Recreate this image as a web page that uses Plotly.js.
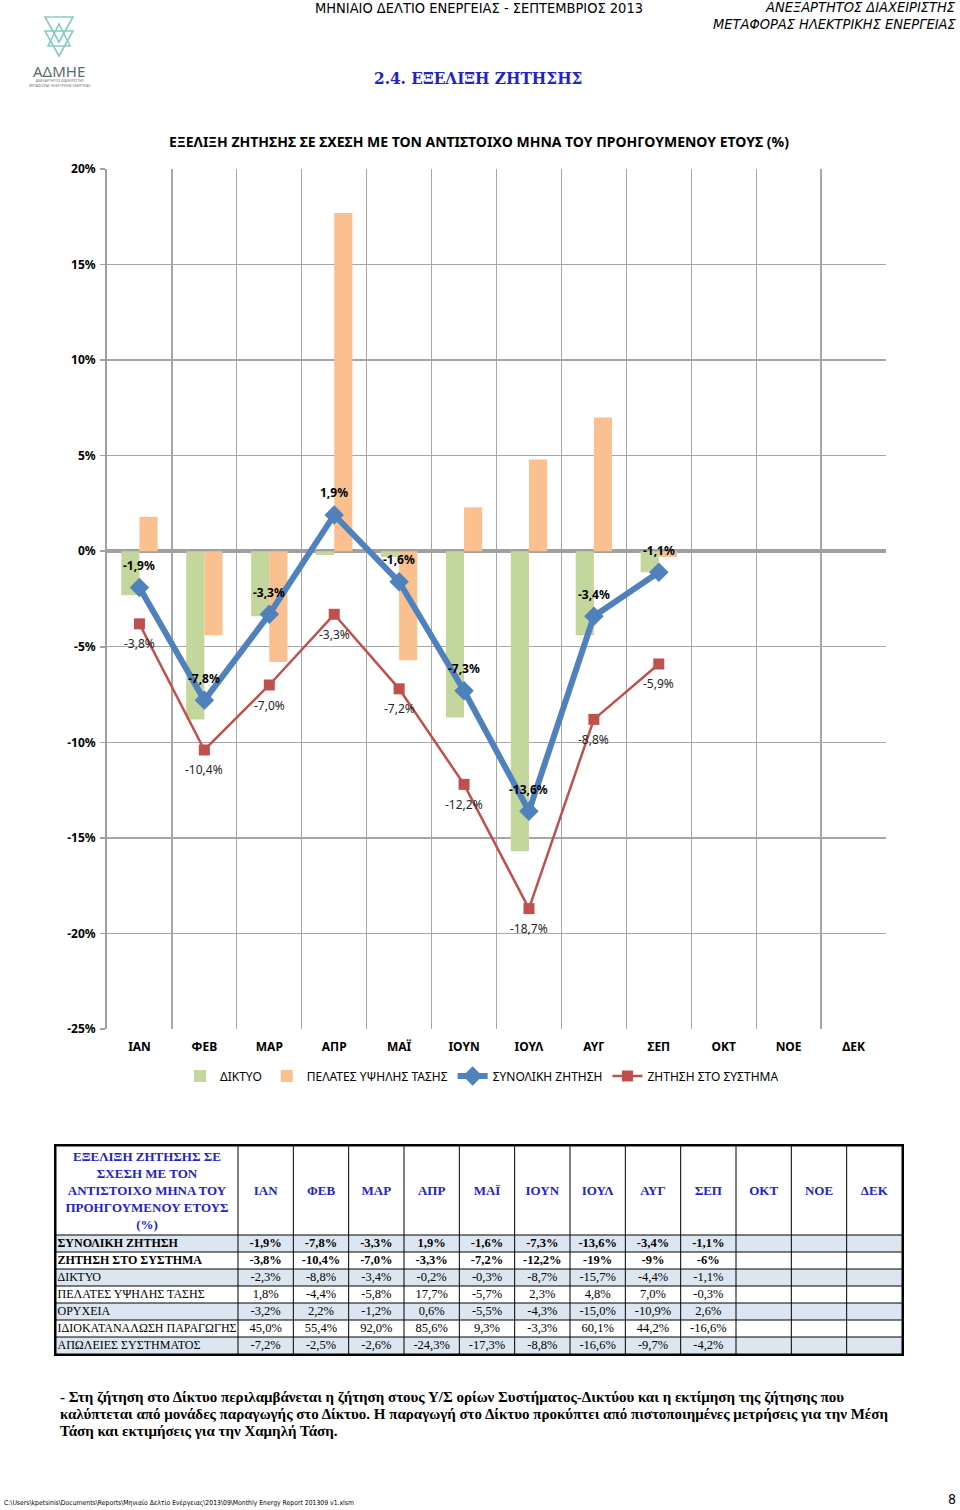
<!DOCTYPE html>
<html><head><meta charset="utf-8">
<script src="https://cdn.plot.ly/plotly-3.0.1.min.js"></script>
<style>html,body{margin:0;padding:0;background:#fff}#chart{width:960px;height:1510px}</style>
</head><body><div id="chart"></div>
<script>
const months = ['ΙΑΝ','ΦΕΒ','ΜΑΡ','ΑΠΡ','ΜΑΪ','ΙΟΥΝ','ΙΟΥΛ','ΑΥΓ','ΣΕΠ','ΟΚΤ','ΝΟΕ','ΔΕΚ'];
const dataMonths = months.slice(0, 9);
const totalDemand = [-1.9, -7.8, -3.3, 1.9, -1.6, -7.3, -13.6, -3.4, -1.1];
const systemDemand = [-3.8, -10.4, -7.0, -3.3, -7.2, -12.2, -18.7, -8.8, -5.9];
const network = [-2.3, -8.8, -3.4, -0.2, -0.3, -8.7, -15.7, -4.4, -1.1];
const hvCustomers = [1.8, -4.4, -5.8, 17.7, -5.7, 2.3, 4.8, 7.0, -0.3];
const yTickVals = [-25, -20, -15, -10, -5, 0, 5, 10, 15, 20];

const seriesNames = ['ΔΙΚΤΥΟ', 'ΠΕΛΑΤΕΣ ΥΨΗΛΗΣ ΤΑΣΗΣ', 'ΣΥΝΟΛΙΚΗ ΖΗΤΗΣΗ', 'ΖΗΤΗΣΗ ΣΤΟ ΣΥΣΤΗΜΑ'];

const tableTitle = 'ΕΞΕΛΙΞΗ ΖΗΤΗΣΗΣ ΣΕ<br>ΣΧΕΣΗ ΜΕ ΤΟΝ<br>ΑΝΤΙΣΤΟΙΧΟ ΜΗΝΑ ΤΟΥ<br>ΠΡΟΗΓΟΥΜΕΝΟΥ ΕΤΟΥΣ<br>(%)';
const rowLabels = ['ΣΥΝΟΛΙΚΗ ΖΗΤΗΣΗ', 'ΖΗΤΗΣΗ ΣΤΟ ΣΥΣΤΗΜΑ', 'ΔΙΚΤΥΟ', 'ΠΕΛΑΤΕΣ ΥΨΗΛΗΣ ΤΑΣΗΣ', 'ΟΡΥΧΕΙΑ', 'ΙΔΙΟΚΑΤΑΝΑΛΩΣΗ ΠΑΡΑΓΩΓΗΣ', 'ΑΠΩΛΕΙΕΣ ΣΥΣΤΗΜΑΤΟΣ'];
const rowTotal = ['-1,9%', '-7,8%', '-3,3%', '1,9%', '-1,6%', '-7,3%', '-13,6%', '-3,4%', '-1,1%'];
const rowSystem = ['-3,8%', '-10,4%', '-7,0%', '-3,3%', '-7,2%', '-12,2%', '-19%', '-9%', '-6%'];
const rowNetwork = ['-2,3%', '-8,8%', '-3,4%', '-0,2%', '-0,3%', '-8,7%', '-15,7%', '-4,4%', '-1,1%'];
const rowHv = ['1,8%', '-4,4%', '-5,8%', '17,7%', '-5,7%', '2,3%', '4,8%', '7,0%', '-0,3%'];
const rowMines = ['-3,2%', '2,2%', '-1,2%', '0,6%', '-5,5%', '-4,3%', '-15,0%', '-10,9%', '2,6%'];
const rowSelf = ['45,0%', '55,4%', '92,0%', '85,6%', '9,3%', '-3,3%', '60,1%', '44,2%', '-16,6%'];
const rowLosses = ['-7,2%', '-2,5%', '-2,6%', '-24,3%', '-17,3%', '-8,8%', '-16,6%', '-9,7%', '-4,2%'];
const boldRows = [true, true, false, false, false, false, false];

const headerLeft = 'ΜΗΝΙΑΙΟ ΔΕΛΤΙΟ ΕΝΕΡΓΕΙΑΣ - ΣΕΠΤΕΜΒΡΙΟΣ 2013';
const headerRight1 = 'ΑΝΕΞΑΡΤΗΤΟΣ ΔΙΑΧΕΙΡΙΣΤΗΣ';
const headerRight2 = 'ΜΕΤΑΦΟΡΑΣ ΗΛΕΚΤΡΙΚΗΣ ΕΝΕΡΓΕΙΑΣ';
const sectionTitle = '2.4. ΕΞΕΛΙΞΗ ΖΗΤΗΣΗΣ';
const chartTitle = 'ΕΞΕΛΙΞΗ ΖΗΤΗΣΗΣ ΣΕ ΣΧΕΣΗ ΜΕ ΤΟΝ ΑΝΤΙΣΤΟΙΧΟ ΜΗΝΑ ΤΟΥ ΠΡΟΗΓΟΥΜΕΝΟΥ ΕΤΟΥΣ (%)';
const noteLines = [
  '- Στη ζήτηση στο Δίκτυο περιλαμβάνεται η ζήτηση στους Υ/Σ ορίων Συστήματος-Δικτύου και η εκτίμηση της ζήτησης που',
  'καλύπτεται από μονάδες παραγωγής στο Δίκτυο. Η παραγωγή στο Δίκτυο προκύπτει από πιστοποιημένες μετρήσεις για την Μέση',
  'Τάση και εκτιμήσεις για την Χαμηλή Τάση.'
];
const filePath = 'C:\\Users\\kpetsinis\\Documents\\Reports\\Μηνιαίο Δελτίο Ενέργειας\\2013\\09\\Monthly Energy Report 201309 v1.xlsm';
const pageNo = '8';

// ---------- layout constants (sizes / styles) ----------
const W = 960, H = 1510;
const px = x => x / W;
const py = y => 1 - y / H;
const fmt = v => v.toFixed(1).replace('.', ',') + '%';

const SANS = 'Noto Sans, DejaVu Sans, sans-serif';
const NARROW = 'Liberation Sans Narrow, DejaVu Sans Condensed, Arial Narrow, sans-serif';
const SERIF = 'Liberation Serif, DejaVu Serif, serif';

// table grid sizes (in table units = pixels)
const firstColWidth = 182, monthColWidth = 664 / 12, headerHeight = 89, rowHeight = 17;

const traces = [
  {type: 'bar', name: seriesNames[0], x: dataMonths, y: network, marker: {color: '#C3D69B'}, hoverinfo: 'skip'},
  {type: 'bar', name: seriesNames[1], x: dataMonths, y: hvCustomers, marker: {color: '#FAC090'}, hoverinfo: 'skip'},
  {type: 'scatter', mode: 'lines+markers', name: seriesNames[2], x: dataMonths, y: totalDemand,
   line: {color: '#4F81BD', width: 6}, marker: {symbol: 'diamond', size: 15, color: '#4F81BD'}},
  {type: 'scatter', mode: 'lines+markers', name: seriesNames[3], x: dataMonths, y: systemDemand,
   line: {color: '#C0504D', width: 2.5}, marker: {symbol: 'square', size: 11, color: '#C0504D'}}
];

// ---------- table as a grid subplot ----------
const colEdges = [0, firstColWidth];
months.forEach((m, j) => colEdges.push(firstColWidth + monthColWidth * (j + 1)));
const rowEdges = [0, headerHeight];
rowLabels.forEach((r, i) => rowEdges.push(headerHeight + rowHeight * (i + 1)));
const colCenters = colEdges.slice(0, -1).map((e, k) => (e + colEdges[k + 1]) / 2);
const rowCenters = rowEdges.slice(1, -1).map((e, k) => (e + rowEdges[k + 2]) / 2);
const tableW = colEdges[colEdges.length - 1], tableH = rowEdges[rowEdges.length - 1];

const rowsData = [rowTotal, rowSystem, rowNetwork, rowHv, rowMines, rowSelf, rowLosses];
const wrap = (s, i) => boldRows[i] ? '<b>' + s + '</b>' : s;

// fills
traces.push({
  type: 'heatmap', xaxis: 'x4', yaxis: 'y4',
  x: colEdges, y: rowEdges.slice(1),
  z: rowLabels.map((r, i) => colCenters.map(() => (i % 2 === 0 ? 1 : 0))),
  colorscale: [[0, '#FFFFFF'], [1, '#DCE6F1']], zmin: 0, zmax: 1, showscale: false,
  hoverinfo: 'skip'
});
// header texts
traces.push({
  type: 'scatter', mode: 'text', xaxis: 'x4', yaxis: 'y4', showlegend: false, hoverinfo: 'skip', cliponaxis: false,
  x: colCenters, y: colCenters.map(() => headerHeight / 2 + 1),
  text: ['<b>' + tableTitle + '</b>'].concat(months.map(m => '<b>' + m + '</b>')),
  textposition: 'middle center',
  textfont: {family: SERIF, size: 13, color: '#2424C4'}
});
// row labels
traces.push({
  type: 'scatter', mode: 'text', xaxis: 'x4', yaxis: 'y4', showlegend: false, hoverinfo: 'skip', cliponaxis: false,
  x: rowLabels.map(() => 1.5), y: rowCenters,
  text: rowLabels.map(wrap), textposition: 'middle right',
  textfont: {family: SERIF, size: 12, color: '#000'}
});
// values
const vx = [], vy = [], vt = [];
rowsData.forEach((r, i) => r.forEach((s, j) => { vx.push(colCenters[j + 1]); vy.push(rowCenters[i]); vt.push(wrap(s, i)); }));
traces.push({
  type: 'scatter', mode: 'text', xaxis: 'x4', yaxis: 'y4', showlegend: false, hoverinfo: 'skip', cliponaxis: false,
  x: vx, y: vy, text: vt, textposition: 'middle center',
  textfont: {family: SERIF, size: 12.5, color: '#000'}
});

// boundaries for zero-axis tick marks
const boundaries = months.map((m, i) => i - 0.5).concat([months.length - 0.5]);

const annotations = [
  {text: headerLeft, x: px(479), y: py(8), xanchor: 'center', yanchor: 'middle', font: {family: NARROW, size: 14.5, color: '#000'}},
  {text: '<i>' + headerRight1 + '</i>', x: px(958), y: py(7), xanchor: 'right', yanchor: 'middle', font: {family: NARROW, size: 14.5, color: '#000'}},
  {text: '<i>' + headerRight2 + '</i>', x: px(958), y: py(24), xanchor: 'right', yanchor: 'middle', font: {family: NARROW, size: 14.5, color: '#000'}},
  {text: '<b>' + sectionTitle + '</b>', x: px(478), y: py(78), xanchor: 'center', yanchor: 'middle', font: {family: 'DejaVu Serif Condensed, DejaVu Serif, serif', size: 17, color: '#2323C6'}},
  {text: 'ΑΔΜΗΕ', x: px(59), y: py(71), xanchor: 'center', yanchor: 'middle', font: {family: SANS, size: 15, color: '#5A6B70'}},
  {text: 'ΑΝΕΞΑΡΤΗΤΟΣ ΔΙΑΧΕΙΡΙΣΤΗΣ<br>ΜΕΤΑΦΟΡΑΣ ΗΛΕΚΤΡΙΚΗΣ ΕΝΕΡΓΕΙΑΣ', x: px(59), y: py(83), xanchor: 'center', yanchor: 'middle', font: {family: SANS, size: 3.5, color: '#777'}},
  {text: filePath, x: px(2), y: py(1503), xanchor: 'left', yanchor: 'middle', font: {family: NARROW, size: 6.8, color: '#000'}},
  {text: pageNo, x: px(958), y: py(1499), xanchor: 'right', yanchor: 'middle', font: {family: NARROW, size: 14, color: '#000'}}
];
noteLines.forEach((t, i) => annotations.push({
  text: '<b>' + t + '</b>', x: px(58), y: py(1397 + i * 17), xanchor: 'left', yanchor: 'middle', align: 'left',
  font: {family: SERIF, size: 15, color: '#000'}
}));
annotations.forEach(a => { a.xref = 'paper'; a.yref = 'paper'; a.showarrow = false; });

// data labels placed through the chart axes
dataMonths.forEach((m, i) => {
  annotations.push({xref: 'x', yref: 'y', x: m, y: totalDemand[i], yshift: 22, showarrow: false,
    text: '<b>' + fmt(totalDemand[i]) + '</b>', font: {family: SANS, size: 12, color: '#000'}});
  annotations.push({xref: 'x', yref: 'y', x: m, y: systemDemand[i], yshift: -20, showarrow: false,
    text: fmt(systemDemand[i]), font: {family: SANS, size: 12, color: '#262626'}});
});

// logo triangles
const tri = pts => 'M ' + pts.map(p => px(p[0]) + ' ' + py(p[1])).join(' L ') + ' Z';
const logoStyle = {type: 'path', xref: 'paper', yref: 'paper', line: {color: '#86CBC1', width: 1.6}};
const shapes = [
  Object.assign({path: tri([[45, 17], [73, 17], [59, 42]])}, logoStyle),
  Object.assign({path: tri([[45, 31], [73, 31], [59, 56]])}, logoStyle),
  Object.assign({path: tri([[48, 46], [70, 46], [59, 24]])}, logoStyle)
];
// table borders, drawn in the table subplot's own units
colEdges.forEach(e => shapes.push({type: 'line', xref: 'x4', yref: 'y4', x0: e, x1: e, y0: 0, y1: tableH,
  line: {color: '#000', width: 1}, layer: 'above'}));
rowEdges.forEach(e => shapes.push({type: 'line', xref: 'x4', yref: 'y4', x0: 0, x1: tableW, y0: e, y1: e,
  line: {color: '#000', width: 1}, layer: 'above'}));

const layout = {
  width: W, height: H,
  margin: {l: 0, r: 0, t: 0, b: 0},
  paper_bgcolor: '#fff', plot_bgcolor: '#fff',
  font: {family: SANS, size: 12, color: '#000'},
  showlegend: true,
  barmode: 'group', bargap: 0.44, bargroupgap: 0,
  title: {text: '<b>' + chartTitle + '</b>', x: px(479), xanchor: 'center', y: py(142), yanchor: 'middle',
          font: {family: SANS, size: 14, color: '#000'}},
  xaxis: {
    domain: [px(107), px(886)], anchor: 'y',
    type: 'category', categoryorder: 'array', categoryarray: months, range: [-0.5, months.length - 0.5],
    tickson: 'boundaries', ticks: '', showgrid: true, gridcolor: '#A6A6A6', gridwidth: 1.3,
    showline: false, zeroline: false, ticklabelstandoff: 9,
    tickfont: {family: SANS, size: 12, color: '#000', weight: 'bold'}
  },
  xaxis2: {
    domain: [px(107), px(886)], overlaying: 'x', anchor: 'free', position: py(551),
    range: [-0.5, months.length - 0.5], tickvals: boundaries, showticklabels: false,
    ticks: 'outside', ticklen: 4, tickwidth: 4, tickcolor: '#A0A0A0', showgrid: false, zeroline: false,
    showline: false
  },
  xaxis3: {
    domain: [px(107), px(886)], overlaying: 'x', anchor: 'free', position: py(551),
    range: [-0.5, months.length - 0.5], tickvals: boundaries, showticklabels: false, side: 'top',
    ticks: 'outside', ticklen: 4, tickwidth: 4, tickcolor: '#A0A0A0', showgrid: false, zeroline: false,
    showline: false
  },
  yaxis: {
    domain: [py(1029), py(169)], anchor: 'x',
    range: [-25, 20], tickvals: yTickVals, ticktext: yTickVals.map(v => v + '%'),
    showgrid: true, gridcolor: '#A6A6A6', gridwidth: 1.3,
    zeroline: true, zerolinecolor: '#A0A0A0', zerolinewidth: 3.5,
    showline: true, linecolor: '#A0A0A0', linewidth: 2,
    ticks: 'outside', ticklen: 5, tickwidth: 1.5, tickcolor: '#A0A0A0', ticklabelstandoff: 2,
    tickfont: {family: SANS, size: 12, color: '#000', weight: 'bold'}
  },
  xaxis4: {
    domain: [px(56), px(902)], anchor: 'y4', range: [0, tableW],
    showticklabels: false, ticks: '', showgrid: false,
    zeroline: false, showline: true, mirror: true, linecolor: '#000', linewidth: 2, fixedrange: true
  },
  yaxis4: {
    domain: [py(1354), py(1146)], anchor: 'x4', range: [tableH, 0],
    showticklabels: false, ticks: '', showgrid: false,
    zeroline: false, showline: true, mirror: true, linecolor: '#000', linewidth: 2, fixedrange: true
  },
  legend: {
    orientation: 'h', x: px(482), xanchor: 'center', y: py(1076), yanchor: 'middle',
    font: {family: SANS, size: 12, color: '#000'}, itemwidth: 30, tracegroupgap: 0,
    bgcolor: 'rgba(0,0,0,0)'
  },
  annotations: annotations,
  shapes: shapes
};

Plotly.newPlot('chart', traces, layout, {staticPlot: true, displayModeBar: false});
</script>
</body></html>
